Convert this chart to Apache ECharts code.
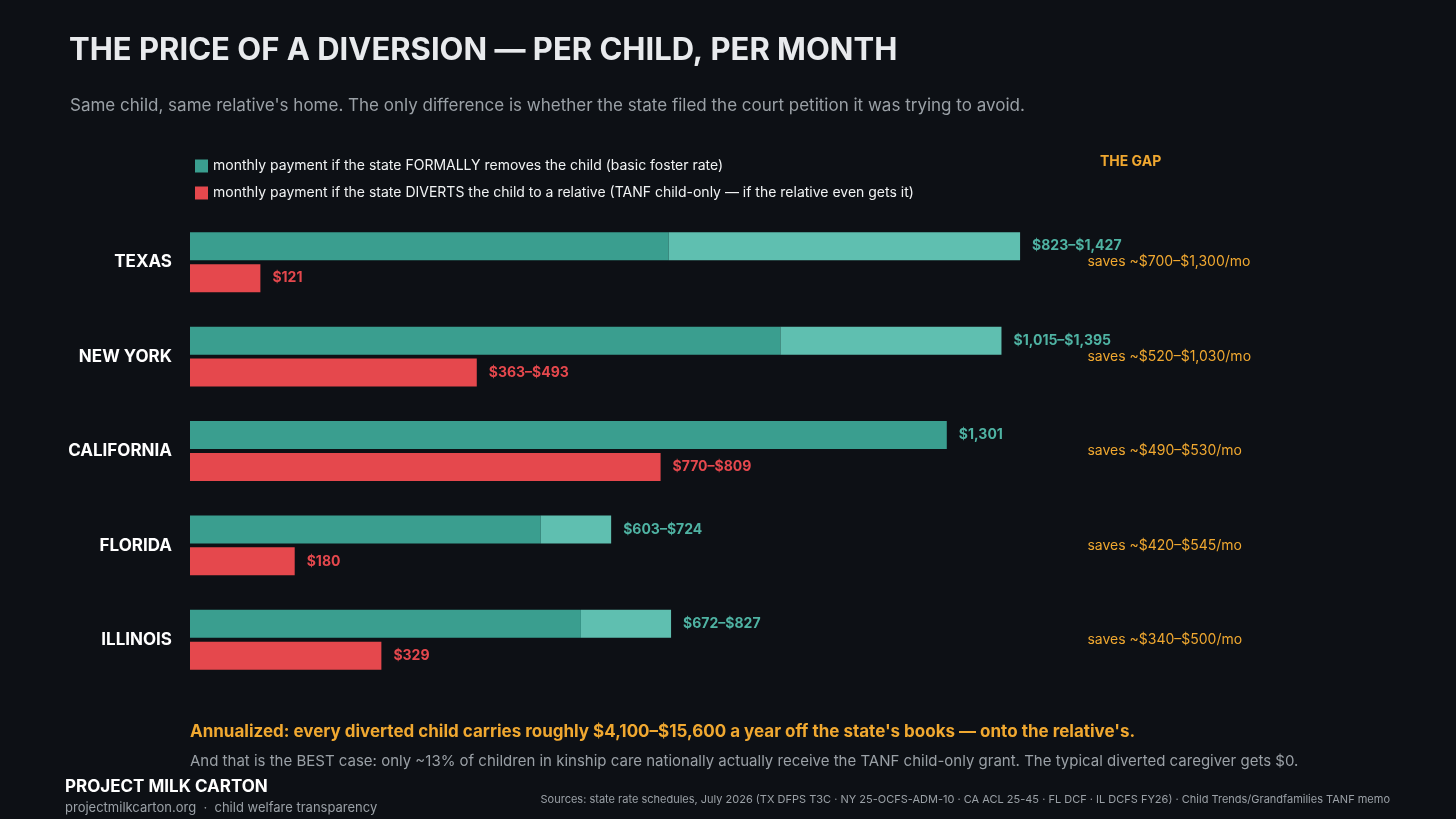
<!DOCTYPE html>
<html><head><meta charset="utf-8">
<script src="https://cdn.jsdelivr.net/npm/echarts@6/dist/echarts.min.js"></script>
<style>html,body{margin:0;background:#0d1015}#c{width:1456px;height:819px}</style>
</head><body><div id="c"></div>
<script>
var states = ['TEXAS', 'NEW YORK', 'CALIFORNIA', 'FLORIDA', 'ILLINOIS'];
var fosterLow = [823, 1015, 1301, 603, 672];
var fosterHigh = [1427, 1395, 1301, 724, 827];
var tanfLow = [121, 363, 770, 180, 329];
var tanfHigh = [121, 493, 809, 180, 329];
var gapText = ['saves ~$700–$1,300/mo', 'saves ~$520–$1,030/mo', 'saves ~$490–$530/mo', 'saves ~$420–$545/mo', 'saves ~$340–$500/mo'];
var fosterName = 'monthly payment if the state FORMALLY removes the child (basic foster rate)';
var tanfName = 'monthly payment if the state DIVERTS the child to a relative (TANF child-only — if the relative even gets it)';

function money(v){ return '$' + v.toLocaleString('en-US'); }
function range(a, b){ return a === b ? money(a) : money(a) + '–' + money(b); }

var F = 'Inter, "Noto Sans", sans-serif';
var myChart = echarts.init(document.getElementById('c'));
var lblTeal = {show: true, position: 'right', distance: 12, color: '#4fb3a3', fontFamily: F, fontSize: 14, fontWeight: 'bold'};

var option = {
    backgroundColor: '#0d1015',
    animation: false,
    textStyle: {fontFamily: F},
    title: [
        {text: 'THE PRICE OF A DIVERSION — PER CHILD, PER MONTH', left: 64, top: 30,
         textStyle: {color: '#e8eaed', fontSize: 31, fontWeight: 'bold', fontFamily: F}},
        {text: "Same child, same relative's home. The only difference is whether the state filed the court petition it was trying to avoid.",
         left: 65, top: 92, textStyle: {color: '#9aa0a6', fontSize: 17, fontWeight: 'normal', fontFamily: F}}
    ],
    legend: {
        left: 190, top: 154, orient: 'vertical', itemGap: 13, itemWidth: 13, itemHeight: 13, icon: 'rect',
        data: [fosterName, tanfName],
        textStyle: {color: '#f1f3f4', fontSize: 14, fontFamily: F}
    },
    grid: {left: 190, top: 215, width: 1163.4, height: 472},
    xAxis: {type: 'value', min: 0, max: 2000, show: false},
    yAxis: [
        {type: 'category', data: states, inverse: true, axisLine: {show: false}, axisTick: {show: false},
         axisLabel: {color: '#ffffff', fontSize: 17, fontWeight: 'bold', margin: 18, fontFamily: F}},
        {type: 'category', data: gapText, inverse: true, position: 'right', axisLine: {show: false}, axisTick: {show: false},
         axisLabel: {color: '#f0a830', fontSize: 14, align: 'left', margin: -266, fontFamily: F}}
    ],
    series: [
        {name: fosterName, type: 'bar', stack: 'f', barWidth: 28, barGap: '14%', itemStyle: {color: '#3a9e8f'},
         data: fosterLow.map(function(v, i){
             return fosterHigh[i] === v ? {value: v, label: Object.assign({formatter: money(v)}, lblTeal)} : v;
         })},
        {name: 'range', type: 'bar', stack: 'f', barWidth: 28, itemStyle: {color: '#5fbfb0'},
         label: Object.assign({formatter: function(p){ var i = p.dataIndex; return fosterHigh[i] === fosterLow[i] ? '' : range(fosterLow[i], fosterHigh[i]); }}, lblTeal),
         data: fosterHigh.map(function(v, i){ return v - fosterLow[i]; })},
        {name: tanfName, type: 'bar', barWidth: 28, itemStyle: {color: '#e5484d'},
         label: {show: true, position: 'right', distance: 12, color: '#e5484d', fontSize: 14, fontWeight: 'bold', fontFamily: F,
                 formatter: function(p){ return range(tanfLow[p.dataIndex], tanfHigh[p.dataIndex]); }},
         data: tanfHigh}
    ],
    graphic: [
        {type: 'text', left: 1100, top: 155, style: {text: 'THE GAP', fill: '#f0a830', font: 'bold 14px ' + F}},
        {type: 'text', left: 190, top: 723, style: {text: "Annualized: every diverted child carries roughly $4,100–$15,600 a year off the state's books — onto the relative's.", fill: '#f0a830', font: 'bold 17px ' + F}},
        {type: 'text', left: 190, top: 754, style: {text: 'And that is the BEST case: only ~13% of children in kinship care nationally actually receive the TANF child-only grant. The typical diverted caregiver gets $0.', fill: '#9aa0a6', font: '15px ' + F}},
        {type: 'text', left: 65, top: 778, style: {text: 'PROJECT MILK CARTON', fill: '#ffffff', font: 'bold 17px ' + F}},
        {type: 'text', left: 65, top: 802, style: {text: 'projectmilkcarton.org  ·  child welfare transparency', fill: '#9aa0a6', font: '13px ' + F}},
        {type: 'text', right: 66, top: 794, style: {text: 'Sources: state rate schedules, July 2026 (TX DFPS T3C · NY 25-OCFS-ADM-10 · CA ACL 25-45 · FL DCF · IL DCFS FY26) · Child Trends/Grandfamilies TANF memo', fill: '#9aa0a6', font: '11px ' + F}}
    ]
};
myChart.setOption(option);
</script></body></html>
